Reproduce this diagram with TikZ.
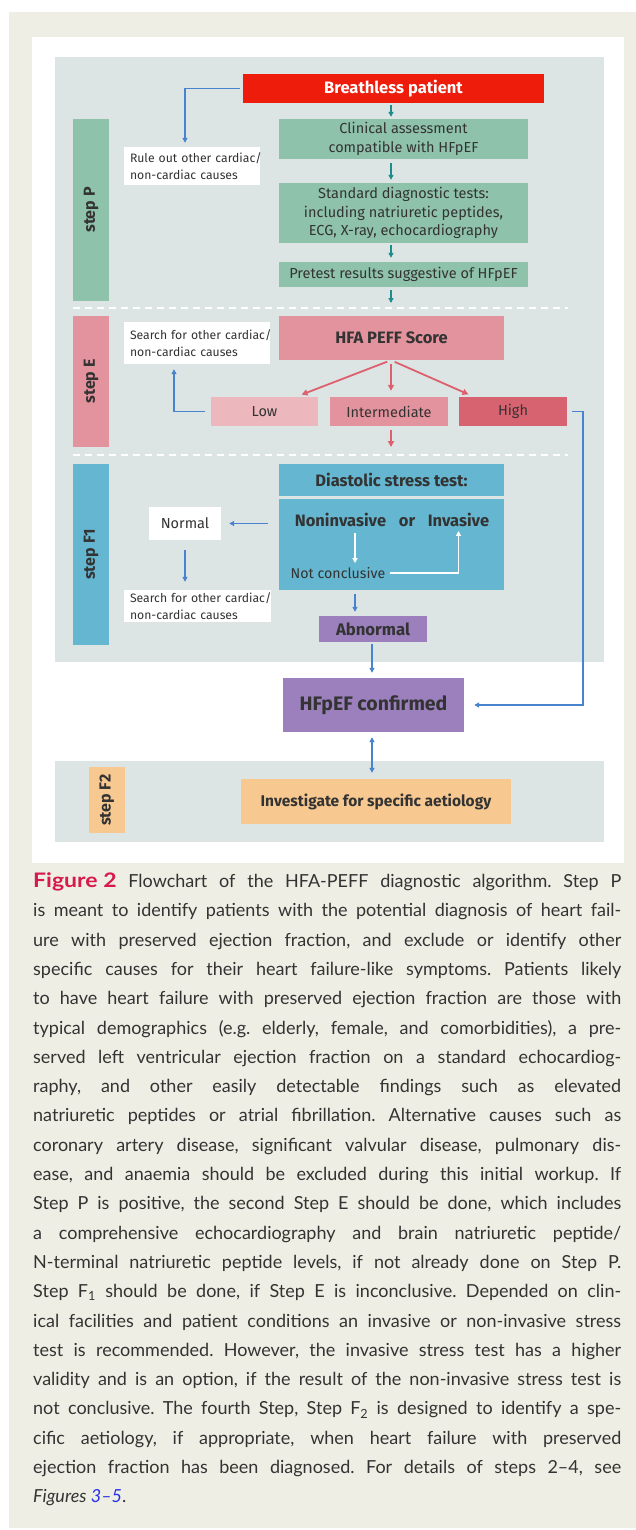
\documentclass[tikz,border=0pt]{standalone}
\usepackage{fontspec}
\setmainfont{Lato}
\newfontfamily\diag{Fira Sans}
\usetikzlibrary{arrows.meta}
\definecolor{beigebg}{RGB}{239,238,228}
\definecolor{panelgray}{RGB}{221,228,228}
\definecolor{redbox}{RGB}{238,28,10}
\definecolor{greenbox}{RGB}{143,194,171}
\definecolor{tealarrow}{RGB}{28,140,140}
\definecolor{bluearrow}{RGB}{72,132,206}
\definecolor{pinkbox}{RGB}{226,147,157}
\definecolor{lowbox}{RGB}{236,183,189}
\definecolor{highbox}{RGB}{216,99,112}
\definecolor{redarrow}{RGB}{220,96,110}
\definecolor{bluebox}{RGB}{101,182,208}
\definecolor{purplebox}{RGB}{155,128,189}
\definecolor{orangebox}{RGB}{247,201,145}
\definecolor{txt}{RGB}{51,51,51}
\definecolor{figred}{RGB}{215,25,75}
\definecolor{linkblue}{RGB}{40,50,230}
\newcommand{\capfont}{\fontsize{18}{20}\selectfont\frenchspacing}
\newcommand{\cl}[1]{\makebox[588pt][s]{#1}}
\begin{document}
\begin{tikzpicture}[x=1pt,y=-1pt,
  box/.style={rectangle, inner sep=0pt, text=txt, align=center, font=\diag\fontsize{14.5}{18.5}\selectfont},
  wbox/.style={rectangle, fill=white, inner xsep=6pt, inner ysep=0pt, text=txt, align=left, font=\diag\fontsize{12.2}{16.5}\selectfont},
  stepbar/.style={rectangle, inner sep=0pt, rotate=90, text=txt, font=\diag\bfseries\fontsize{16}{18}\selectfont},
  lbl/.style={inner sep=0pt, text=txt, font=\diag\fontsize{14.2}{16}\selectfont},
  bld/.style={font=\diag\bfseries\fontsize{16.5}{19}\selectfont},
  tarr/.style={draw=tealarrow, line width=1.3pt, -{Triangle[length=5pt,width=5pt]}},
  barr/.style={draw=bluearrow, line width=1.5pt, -{Triangle[length=5pt,width=5pt]}},
  rarr/.style={draw=redarrow, line width=1.8pt, -{Triangle[length=6pt,width=6pt]}},
  warr/.style={draw=white, line width=1.8pt, -{Triangle[length=5pt,width=5pt]}},
  dline/.style={draw=white, line width=2pt, dash pattern=on 7pt off 5pt},
  capline/.style={anchor=base west, inner sep=0pt, text=txt, font=\capfont}
]
\useasboundingbox (0,0) rectangle (636,1530);
% backgrounds
\fill[beigebg] (9,12) rectangle (636,1528);
\fill[white] (32,37) rectangle (624,863);
\fill[panelgray] (55,57) rectangle (604,662);
\fill[panelgray] (55,761) rectangle (604,842);

% helper coordinates
\coordinate (xa) at (391,0);
\coordinate (x185) at (185,0);
\coordinate (x174) at (174,0);
\coordinate (x296) at (296,0);
\coordinate (x474) at (474,0);
\coordinate (x583) at (583,0);
\coordinate (x355) at (355,0);
\coordinate (x372) at (372,0);

% step P
\node[stepbar, fill=greenbox, minimum width=182pt, minimum height=36pt] (sp) at (91,210) {step P};
\node[box, bld, fill=redbox, text=white, minimum width=301pt, minimum height=29pt] (bp) at (393.5,88.5) {Breathless patient};
\node[box, fill=greenbox, minimum width=249pt, minimum height=40pt] (ca) at (403.5,139) {Clinical assessment\\compatible with HFpEF};
\node[box, fill=greenbox, minimum width=249pt, minimum height=60pt] (sd) at (403.5,213) {Standard diagnostic tests:\\including natriuretic peptides,\\ECG, X-ray, echocardiography};
\node[box, fill=greenbox, minimum width=249pt, minimum height=25pt] (pr) at (403.5,274.5) {Pretest results suggestive of HFpEF};
\node[wbox, minimum height=38pt, text width=124pt] (ro) at (192,166) {\mbox{Rule out other cardiac/}\\\mbox{non-cardiac causes}};
\coordinate (d1) at (391,303);

\draw[tarr, shorten <=2pt, shorten >=2pt] (bp.south -| xa) -- (ca.north -| xa);
\draw[tarr, shorten <=4pt, shorten >=3pt] (ca.south -| xa) -- (sd.north -| xa);
\draw[tarr, shorten <=2pt, shorten >=4pt] (sd.south -| xa) -- (pr.north -| xa);
\draw[tarr, shorten <=3pt] (pr.south -| xa) -- (d1);
\draw[barr, shorten <=3pt, shorten >=4pt] (bp.west) -| (ro.north -| x185);

\draw[dline] (73,308) -- (568,308);

% step E
\node[stepbar, fill=pinkbox, minimum width=131pt, minimum height=36pt] (se) at (91,381.5) {step E};
\node[wbox, minimum height=42pt, text width=134pt] (se1) at (197,343) {\mbox{Search for other cardiac/}\\\mbox{non-cardiac causes}};
\node[box, bld, fill=pinkbox, minimum width=225pt, minimum height=44pt] (hfa) at (391.5,338) {HFA PEFF Score};
\node[box, fill=lowbox, minimum width=107pt, minimum height=29pt] (low) at (264.5,411.5) {Low};
\node[box, fill=pinkbox, minimum width=118pt, minimum height=29pt] (mid) at (389,411.5) {Intermediate};
\node[box, fill=highbox, minimum width=108pt, minimum height=29pt] (high) at (513,411.5) {High};
\coordinate (d2) at (391,447);

\draw[rarr, shorten <=4pt, shorten >=6pt] (hfa.south -| xa) -- (low.north -| x296);
\draw[rarr, shorten <=4pt, shorten >=6pt] (hfa.south -| xa) -- (mid.north -| xa);
\draw[rarr, shorten <=4pt, shorten >=6pt] (hfa.south -| xa) -- (high.north -| x474);
\draw[rarr, shorten <=4pt] (mid.south -| xa) -- (d2);
\draw[barr, shorten <=6pt, shorten >=5pt] (low.west) -| (se1.south -| x174);

\draw[dline] (73,455) -- (568,455);

% step F1
\node[stepbar, fill=bluebox, minimum width=181pt, minimum height=36pt] (sf1) at (91,554.5) {step F1};
\node[box, bld, fill=bluebox, minimum width=225pt, minimum height=32pt] (dst) at (391.5,480) {Diastolic stress test:};
\node[box, fill=bluebox, minimum width=225pt, minimum height=91pt] (nib) at (391.5,544.5) {};
\node[lbl, bld, anchor=base] (nonv) at (340.5,526.5) {Noninvasive};
\node[lbl, bld, anchor=base] (orr) at (407,526.5) {or};
\node[lbl, bld, anchor=base] (inv) at (458.5,526.5) {Invasive};
\node[lbl] (nc) at (338,573) {Not conclusive};
\node[box, fill=white, minimum width=72pt, minimum height=33pt] (normal) at (185,523.5) {Normal};
\node[wbox, minimum height=32pt, text width=135pt] (se2) at (197.5,606) {\mbox{Search for other cardiac/}\\\mbox{non-cardiac causes}};
\node[box, fill=purplebox, minimum width=108pt, minimum height=26pt, font=\diag\bfseries\fontsize{16.7}{19}\selectfont] (abn) at (373,629) {Abnormal};

\draw[warr, shorten <=6pt, shorten >=4pt] (nonv.south -| x355) -- (nc.north -| x355);
\draw[warr, shorten <=5pt, shorten >=4pt] (nc.east) -- (nc.east -| inv.south) -- (inv.south);
\draw[barr, shorten <=11pt, shorten >=8pt] (nib.west |- normal.east) -- (normal.east);
\draw[barr, shorten <=10pt, shorten >=8pt] (normal.south) -- (se2.north -| normal.south);
\draw[barr, shorten <=4pt, shorten >=4pt] (nib.south -| x355) -- (abn.north -| x355);

% confirmed
\node[box, fill=purplebox, minimum width=181pt, minimum height=54pt, font=\diag\bfseries\fontsize{19.5}{22}\selectfont] (conf) at (373.5,705) {HFpEF confirmed};
\draw[barr, shorten <=2pt, shorten >=5pt] (abn.south -| x372) -- (conf.north -| x372);
\draw[barr, shorten <=5pt, shorten >=10pt] (high.east) -- (high.east -| x583) -- (x583 |- conf.east) -- (conf.east);

% step F2
\node[stepbar, fill=orangebox, minimum width=66pt, minimum height=35.5pt] (sf2) at (106.75,800) {step F2};
\node[box, fill=orangebox, minimum width=270pt, minimum height=45pt, font=\diag\bfseries\fontsize{15.5}{18}\selectfont] (aet) at (376,801.5) {Investigate for specific aetiology};
\draw[barr, {Triangle[length=5pt,width=5pt]}-{Triangle[length=5pt,width=5pt]}, shorten <=5pt, shorten >=6pt] (conf.south -| x372) -- (aet.north -| x372);

% caption
\node[capline] (c1) at (33,887.5) {\cl{{\color{figred}\fontsize{20}{20}\selectfont\bfseries\scalebox{1.15}[1]{Figure 2}} Flowchart of the HFA-PEFF diagnostic algorithm. Step P}};
\node[capline] (c2) at (33,916.8) {\cl{is meant to identify patients with the potential diagnosis of heart fail-}};
\node[capline] (c3) at (33,946.1) {\cl{ure with preserved ejection fraction, and exclude or identify other}};
\node[capline] (c4) at (33,975.4) {\cl{specific causes for their heart failure-like symptoms. Patients likely}};
\node[capline] (c5) at (33,1004.7) {\cl{to have heart failure with preserved ejection fraction are those with}};
\node[capline] (c6) at (33,1034.0) {\cl{typical demographics (e.g. elderly, female, and comorbidities), a pre-}};
\node[capline] (c7) at (33,1063.3) {\cl{served left ventricular ejection fraction on a standard echocardiog-}};
\node[capline] (c8) at (33,1092.6) {\cl{raphy, and other easily detectable findings such as elevated}};
\node[capline] (c9) at (33,1121.9) {\cl{natriuretic peptides or atrial fibrillation. Alternative causes such as}};
\node[capline] (c10) at (33,1151.2) {\cl{coronary artery disease, significant valvular disease, pulmonary dis-}};
\node[capline] (c11) at (33,1180.5) {\cl{ease, and anaemia should be excluded during this initial workup. If}};
\node[capline] (c12) at (33,1209.8) {\cl{Step P is positive, the second Step E should be done, which includes}};
\node[capline] (c13) at (33,1239.1) {\cl{a comprehensive echocardiography and brain natriuretic peptide/}};
\node[capline] (c14) at (33,1268.4) {\cl{N-terminal natriuretic peptide levels, if not already done on Step P.}};
\node[capline] (c15) at (33,1297.7) {\cl{Step F\textsubscript{1} should be done, if Step E is inconclusive. Depended on clin-}};
\node[capline] (c16) at (33,1327.0) {\cl{ical facilities and patient conditions an invasive or non-invasive stress}};
\node[capline] (c17) at (33,1356.3) {\cl{test is recommended. However, the invasive stress test has a higher}};
\node[capline] (c18) at (33,1385.6) {\cl{validity and is an option, if the result of the non-invasive stress test is}};
\node[capline] (c19) at (33,1414.9) {\cl{not conclusive. The fourth Step, Step F\textsubscript{2} is designed to identify a spe-}};
\node[capline] (c20) at (33,1444.2) {\cl{cific aetiology, if appropriate, when heart failure with preserved}};
\node[capline] (c21) at (33,1473.5) {\cl{ejection fraction has been diagnosed. For details of steps 2–4, see}};
\node[capline] (c22) at (33,1502.8) {\textit{Figures {\color{linkblue}3–5}}.};
\end{tikzpicture}
\end{document}
